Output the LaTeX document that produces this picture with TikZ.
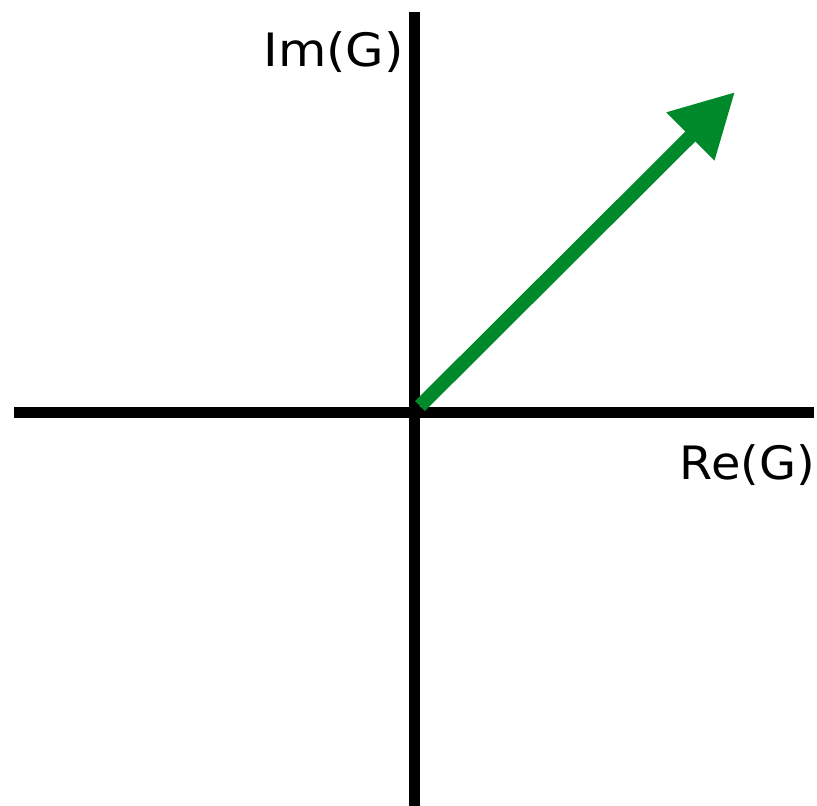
\documentclass[tikz,border=0pt]{standalone}
\usepackage{fontspec}
\newfontfamily\lblfont{DejaVu Sans}
\usetikzlibrary{arrows.meta}
\definecolor{vecgreen}{RGB}{0,137,42}
\tikzset{
  axis/.style={line width=11pt, line cap=butt, black},
  vec/.style={line width=14pt, vecgreen, line cap=butt, -{Triangle[length=63pt,width=64pt]}},
  axlabel/.style={inner sep=0pt, font=\lblfont\fontsize{46}{55}\selectfont}
}
\begin{document}
\begin{tikzpicture}[x=1pt,y=-1pt]
  \useasboundingbox (0,0) rectangle (817,806);
  \coordinate (ytop) at (414.5,12);
  \coordinate (ybot) at (414.5,806);
  \coordinate (xleft) at (14,412.5);
  \coordinate (xright) at (814,412.5);
  \coordinate (vstart) at (420,406);
  \coordinate (vtip) at (735,92);
  \draw[axis] (ybot) -- (ytop);
  \draw[axis] (xleft) -- (xright);
  \draw[vec] (vstart) -- (vtip);
  \node[axlabel, anchor=base east] (imlab) at (404,66) {\scalebox{1.08}[1]{Im(G)}};
  \node[axlabel, anchor=base east] (relab) at (815,479) {\scalebox{1.04}[1]{Re(G)}};
\end{tikzpicture}
\end{document}
